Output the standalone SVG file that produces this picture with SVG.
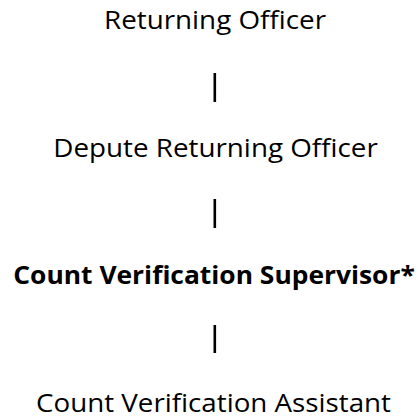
<svg xmlns="http://www.w3.org/2000/svg" width="418" height="419" viewBox="0 0 418 419">
<style>
.t{font-family:"Open Sans","Noto Sans","Liberation Sans",sans-serif;font-size:25px;fill:#000;}
.b{font-weight:bold;}
</style>
<rect width="418" height="419" fill="#fff"/>
<g id="connectors">
<rect x="213.5" y="73" width="2.6" height="29" fill="#000"/>
<rect x="213.5" y="199" width="2.6" height="29" fill="#000"/>
<rect x="213.5" y="325" width="2.6" height="28" fill="#000"/>
</g>
<g id="returning-officer"><text class="t" x="104" y="28.5" textLength="222" lengthAdjust="spacingAndGlyphs">Returning Officer</text></g>
<g id="depute-returning-officer"><text class="t" x="53.3" y="156.7" textLength="324.5" lengthAdjust="spacingAndGlyphs">Depute Returning Officer</text></g>
<g id="count-verification-supervisor"><text class="t b" x="13.3" y="284" textLength="401.5" lengthAdjust="spacingAndGlyphs">Count Verification Supervisor*</text></g>
<g id="count-verification-assistant"><text class="t" x="36" y="411.7" textLength="355" lengthAdjust="spacingAndGlyphs">Count Verification Assistant</text></g>
</svg>
